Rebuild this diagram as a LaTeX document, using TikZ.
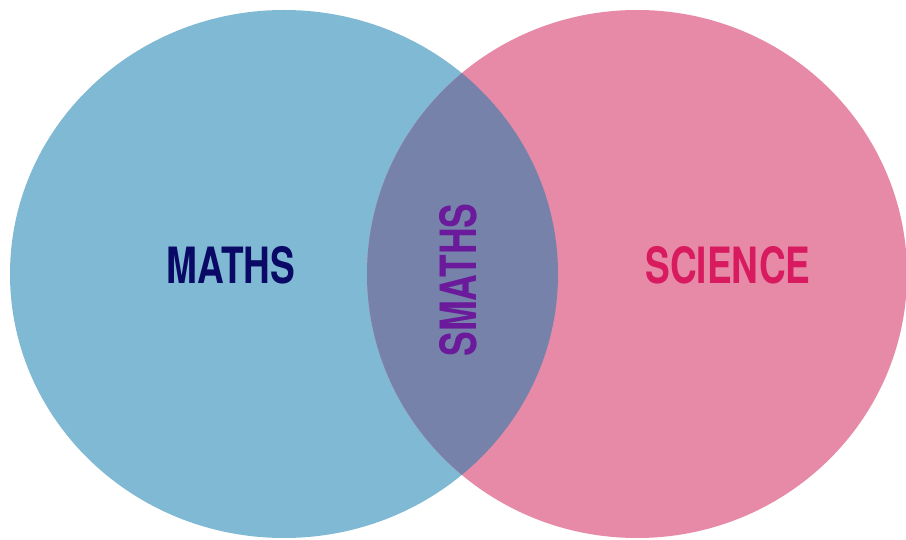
\documentclass[tikz,border=0pt]{standalone}
\usepackage{fontspec}
\setmainfont{TeX Gyre Heros}
\definecolor{mathsblue}{HTML}{80B9D3}
\definecolor{sciencepink}{HTML}{E68AA8}
\definecolor{overlapc}{HTML}{7682AA}
\definecolor{mathstext}{HTML}{0A0A66}
\definecolor{smathstext}{HTML}{6A1A9A}
\definecolor{sciencetext}{HTML}{D81B5F}
\tikzset{
  label/.style={inner sep=0pt, font=\fontsize{50}{50}\selectfont\bfseries},
}
\newcommand{\narrow}[1]{\scalebox{0.74}[1]{#1}}
\begin{document}
\begin{tikzpicture}[x=1pt,y=1pt]
\useasboundingbox (0,0) rectangle (906,539);
\fill[white] (0,0) rectangle (906,539);
\fill[mathsblue] (284,265) ellipse [x radius=274, y radius=264];
\fill[sciencepink] (637,265) ellipse [x radius=270, y radius=264];
\begin{scope}
  \clip (284,265) ellipse [x radius=274, y radius=264];
  \fill[overlapc] (637,265) ellipse [x radius=270, y radius=264];
\end{scope}
\node[label, text=mathstext] (maths) at (231,274) {\narrow{MATHS}};
\node[label, text=sciencetext] (science) at (728,274) {\narrow{SCIENCE}};
\node[label, text=smathstext, rotate=90] (smaths) at (458,259) {\narrow{SMATHS}};
\end{tikzpicture}
\end{document}
